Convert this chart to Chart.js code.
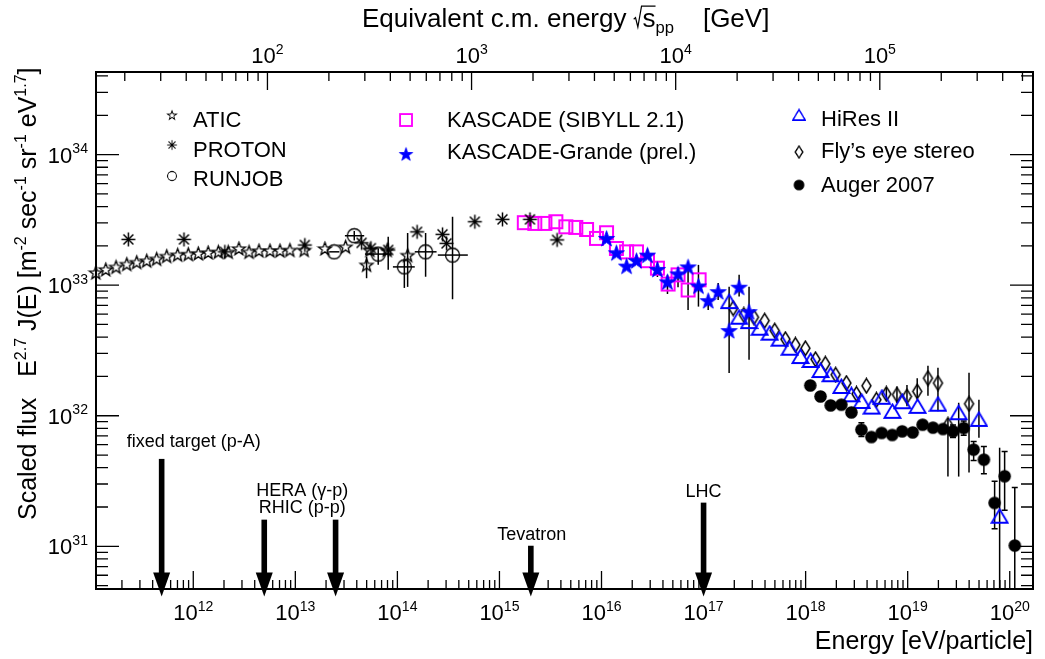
<!DOCTYPE html>
<html>
<head>
<meta charset="utf-8">
<script src="https://cdn.jsdelivr.net/npm/chart.js@4.4.1/dist/chart.umd.min.js"></script>
<style>
  body { margin: 0; background: #fff; }
</style>
</head>
<body>
<canvas id="c" width="1045" height="659"></canvas>
<script>
/* ─── Data (flux in units of 1e33) ───────────────────────────── */

const FLUX_UNIT = 1e33;

const aticE = [1.11e11, 1.39e11, 1.75e11, 2.23e11, 2.79e11, 3.50e11, 4.38e11, 5.49e11, 7.03e11, 8.93e11,
               1.12e12, 1.40e12, 1.76e12, 2.20e12, 2.80e12, 3.52e12, 4.40e12, 5.64e12, 7.07e12, 8.85e12,
               1.22e13, 1.95e13, 3.11e13, 4.99e13, 5.38e13, 7.94e13, 1.26e14];
const aticF = [1.25, 1.32, 1.38, 1.45, 1.50, 1.54, 1.59, 1.67, 1.71, 1.73,
               1.75, 1.78, 1.80, 1.80, 1.91, 1.80, 1.84, 1.84, 1.84, 1.86,
               1.86, 1.91, 1.97, 1.43, 1.86, 1.86, 1.70];
const aticErrE = [4.99e13, 1.26e14];
const aticErrLo = [1.13, 0.97];
const aticErrHi = [1.65, 2.51];

const protonE = [2.31e11, 8.11e11, 2.04e12, 1.24e13, 4.46e13, 5.50e13, 8.13e13, 1.56e14, 2.77e14, 3.03e14,
                 5.74e14, 1.07e15, 1.99e15, 3.67e15];
const protonF = [2.24, 2.24, 1.80, 2.03, 2.11, 1.92, 1.86, 2.56, 2.45, 2.09, 3.06, 3.19, 3.19, 2.22];
const protonErrE = [8.13e13];
const protonErrLo = [1.31];
const protonErrHi = [2.35];

const runjobE = [2.40e13, 3.78e13, 6.49e13, 1.17e14, 1.89e14, 3.47e14];
const runjobF = [1.80, 2.39, 1.73, 1.38, 1.80, 1.70];
const runjobELo = [2.15e13, 3.06e13, 4.81e13, 9.04e13, 1.48e14, 2.49e14];
const runjobEHi = [2.70e13, 4.73e13, 8.77e13, 1.48e14, 2.42e14, 4.90e14];
const runjobErrE = [3.78e13, 6.49e13, 1.17e14, 1.89e14, 3.47e14];
const runjobErrLo = [2.20, 1.43, 0.952, 1.16, 0.78];
const runjobErrHi = [2.60, 1.92, 1.56, 2.51, 3.34];

const kascadeE = [1.75e15, 2.22e15, 2.79e15, 3.57e15, 4.47e15, 5.60e15, 7.13e15, 8.93e15, 1.12e16, 1.40e16,
                  1.76e16, 2.20e16, 2.82e16, 3.53e16, 4.49e16, 5.62e16, 7.05e16, 9.04e16];
const kascadeF = [3.01, 2.97, 2.97, 3.06, 2.80, 2.77, 2.67, 2.28, 2.52, 1.91,
                  1.80, 1.80, 1.54, 1.35, 1.02, 1.20, 0.919, 1.10];

const grandeE = [1.12e16, 1.40e16, 1.76e16, 2.20e16, 2.82e16, 3.53e16, 4.43e16, 5.62e16, 7.05e16, 8.91e16,
                 1.11e17, 1.39e17, 1.78e17, 2.23e17, 2.79e17];
const grandeF = [2.28, 1.77, 1.40, 1.54, 1.70, 1.32, 1.06, 1.22, 1.38, 0.986,
                 0.761, 0.892, 0.449, 0.964, 0.627];
const grandeErrE = [3.53e16, 4.43e16, 5.62e16, 7.05e16, 8.91e16, 1.11e17, 1.39e17, 1.78e17, 2.23e17, 2.79e17];
const grandeErrLo = [1.155, 0.856, 0.964, 0.645, 0.685, 0.646, 0.77, 0.212, 0.817, 0.268];
const grandeErrHi = [1.51, 1.20, 1.38, 1.50, 1.43, 0.817, 1.04, 0.974, 1.20, 0.974];

const hiresE = [1.78e17, 2.23e17, 2.79e17, 3.55e17, 4.45e17, 5.57e17, 6.98e17, 8.89e17, 1.12e18, 1.40e18,
                1.76e18, 2.24e18, 2.81e18, 3.55e18, 4.44e18, 5.60e18, 7.08e18, 8.87e18, 1.25e19, 1.98e19,
                3.16e19, 4.99e19, 7.96e19];
const hiresF = [0.748, 0.568, 0.526, 0.468, 0.429, 0.386, 0.329, 0.284, 0.265, 0.222,
                0.206, 0.1675, 0.1447, 0.1286, 0.1165, 0.1385, 0.108, 0.128, 0.118, 0.1225,
                0.1054, 0.0937, 0.017];
const hiresErrE = [3.16e19, 4.99e19, 7.96e19];
const hiresErrLo = [0.0342, 0.0679, 0.001];
const hiresErrHi = [0.1257, 0.1327, 0.0569];

const flysE = [1.95e17, 2.48e17, 3.12e17, 3.97e17, 4.98e17, 6.34e17, 7.94e17, 9.95e17, 1.25e18, 1.56e18,
               1.97e18, 2.51e18, 3.15e18, 3.94e18, 4.94e18, 6.18e18, 7.85e18, 9.84e18, 1.24e19, 1.58e19,
               1.98e19, 2.48e19, 3.99e19];
const flysF = [0.666, 0.592, 0.568, 0.535, 0.449, 0.386, 0.349, 0.329, 0.271, 0.250,
               0.206, 0.178, 0.147, 0.1696, 0.1325, 0.147, 0.1448, 0.1405, 0.1535, 0.194,
               0.178, 0.0853, 0.1235];
const flysErrE = [6.18e18, 7.85e18, 9.84e18, 1.24e19, 1.58e19, 1.98e19, 2.48e19, 3.99e19];
const flysErrLo = [0.1325, 0.125, 0.118, 0.1325, 0.142, 0.108, 0.0342, 0.0367];
const flysErrHi = [0.164, 0.1675, 0.172, 0.1938, 0.241, 0.233, 0.095, 0.213];

const augerE = [1.11e18, 1.40e18, 1.76e18, 2.24e18, 2.81e18, 3.52e18, 4.41e18, 5.56e18, 7.05e18, 8.83e18,
                1.12e19, 1.40e19, 1.77e19, 2.22e19, 2.78e19, 3.54e19, 4.43e19, 5.58e19, 7.11e19, 8.91e19,
                1.12e20];
const augerF = [0.1706, 0.1405, 0.120, 0.1214, 0.106, 0.0781, 0.0687, 0.0738, 0.0712, 0.0759,
                0.0745, 0.0853, 0.081, 0.0791, 0.0759, 0.0805, 0.055, 0.0461, 0.0215, 0.0344,
                0.01014];
const augerErrE = [3.52e18, 2.78e19, 3.54e19, 4.43e19, 5.58e19, 7.11e19, 8.91e19, 1.12e20];
const augerErrLo = [0.0692, 0.068, 0.071, 0.0455, 0.036, 0.0136, 0.0189, 0.001];
const augerErrHi = [0.0885, 0.085, 0.091, 0.0636, 0.058, 0.0315, 0.0533, 0.0282];

// accelerator arrows: energy and flux level where the shaft starts
const accelNames = ['fixed target (p-A)', 'HERA (γ-p)', 'RHIC (p-p)', 'Tevatron', 'LHC'];
const accelE = [4.9e11, 4.96e12, 2.48e13, 2.03e15, 1.0e17];
const accelTopF = [0.0467, 0.0160, 0.0160, 0.0101, 0.0216];

// axis ranges
const E_MIN = 1.114e11, E_MAX = 1.69e20;
const F_MIN = 4.71e30, F_MAX = 4.29e34;
const TWO_MP = 1.876; // 2 m_p [GeV], sqrt(s) = sqrt(2 m_p E)

/* ─── Markers ───────────────────────────────────────────────── */

function markerCanvas(w, h, draw) {
    const c = document.createElement('canvas');
    c.width = w; c.height = h;
    draw(c.getContext('2d'), w / 2, h / 2);
    return c;
}

function starPath(g, cx, cy, R, r) {
    g.beginPath();
    for (let i = 0; i < 10; i++) {
        const rad = i % 2 ? r : R;
        const a = -Math.PI / 2 + i * Math.PI / 5;
        g.lineTo(cx + rad * Math.cos(a), cy + rad * Math.sin(a));
    }
    g.closePath();
}

const BLUE = '#0000ff', MAGENTA = '#ff00ff';

const mk = {
    atic: markerCanvas(17, 17, (g, x, y) => {
        starPath(g, x, y + 0.6, 6.8, 2.8);
        g.strokeStyle = '#000'; g.lineWidth = 1.3; g.stroke();
    }),
    proton: markerCanvas(17, 17, (g, x, y) => {
        g.strokeStyle = '#000'; g.lineWidth = 1.5;
        for (let k = 0; k < 4; k++) {
            const a = k * Math.PI / 4;
            g.beginPath();
            g.moveTo(x - 7 * Math.cos(a), y - 7 * Math.sin(a));
            g.lineTo(x + 7 * Math.cos(a), y + 7 * Math.sin(a));
            g.stroke();
        }
    }),
    runjob: markerCanvas(17, 17, (g, x, y) => {
        g.beginPath(); g.arc(x, y, 7, 0, Math.PI * 2);
        g.strokeStyle = '#000'; g.lineWidth = 1.3; g.stroke();
    }),
    kascade: markerCanvas(17, 17, (g) => {
        g.strokeStyle = MAGENTA; g.lineWidth = 2;
        g.strokeRect(2, 2, 13, 13);
    }),
    grande: markerCanvas(19, 19, (g, x, y) => {
        starPath(g, x, y + 0.7, 8.5, 3.4);
        g.fillStyle = BLUE; g.fill();
        g.strokeStyle = BLUE; g.lineWidth = 0.8; g.stroke();
    }),
    hires: markerCanvas(19, 17, (g) => {
        g.beginPath(); g.moveTo(9.5, 1.5); g.lineTo(17.5, 15); g.lineTo(1.5, 15); g.closePath();
        g.strokeStyle = BLUE; g.lineWidth = 1.8; g.stroke();
    }),
    flys: markerCanvas(13, 17, (g) => {
        g.beginPath(); g.moveTo(6.5, 1.3); g.lineTo(11, 8.5); g.lineTo(6.5, 15.7); g.lineTo(2, 8.5); g.closePath();
        g.strokeStyle = '#000'; g.lineWidth = 1.5; g.stroke();
    }),
    auger: markerCanvas(15, 15, (g, x, y) => {
        g.beginPath(); g.arc(x, y, 6.3, 0, Math.PI * 2);
        g.fillStyle = '#000'; g.fill();
    })
};

/* ─── Text helpers (superscripts / subscripts / sqrt) ───────── */

const FONT = '"Liberation Sans", Arial, Helvetica, sans-serif';
const font = px => px + 'px ' + FONT;

function richWidth(ctx, parts, size) {
    let w = 0;
    for (const [t, m] of parts) {
        const s = (m === 'sup' || m === 'sub') ? size * 0.64 : size;
        ctx.font = font(s);
        w += ctx.measureText(t).width + (m === 'sqrt' ? size * 0.34 : 0);
    }
    return w;
}

function richDraw(ctx, parts, x, y, size, align) {
    const w = richWidth(ctx, parts, size);
    let cx = align === 'center' ? x - w / 2 : align === 'right' ? x - w : x;
    ctx.textAlign = 'left';
    ctx.textBaseline = 'alphabetic';
    ctx.fillStyle = '#000';
    for (const [t, m] of parts) {
        if (m === 'sqrt') {
            ctx.font = font(size);
            const tw = ctx.measureText(t).width;
            const r = size * 0.34;
            ctx.beginPath();
            ctx.moveTo(cx, y - size * 0.30);
            ctx.lineTo(cx + size * 0.07, y - size * 0.36);
            ctx.lineTo(cx + size * 0.16, y);
            ctx.lineTo(cx + r - 1, y - size * 0.80);
            ctx.lineTo(cx + r + tw, y - size * 0.80);
            ctx.strokeStyle = '#000'; ctx.lineWidth = 1.2; ctx.stroke();
            ctx.fillText(t, cx + r, y);
            cx += r + tw;
            continue;
        }
        const s = (m === 'sup' || m === 'sub') ? size * 0.64 : size;
        const dy = m === 'sup' ? -size * 0.42 : m === 'sub' ? size * 0.24 : 0;
        ctx.font = font(s);
        ctx.fillText(t, cx, y + dy);
        cx += ctx.measureText(t).width;
    }
}

const pow10 = n => [['10', ''], [String(n), 'sup']];

function logTicks(min, max) {
    const out = [];
    for (let e = Math.floor(Math.log10(min)); e <= Math.ceil(Math.log10(max)); e++) {
        for (let k = 1; k <= 9; k++) {
            const v = k * Math.pow(10, e);
            if (v >= min * 0.9999 && v <= max * 1.0001) out.push({ v, e, major: k === 1 });
        }
    }
    return out;
}

/* ─── Plugin: frame, ticks, error bars, legend, arrows ──────── */

const errorSets = [
    { E: aticErrE, lo: aticErrLo, hi: aticErrHi },
    { E: protonErrE, lo: protonErrLo, hi: protonErrHi },
    { E: runjobErrE, lo: runjobErrLo, hi: runjobErrHi },
    { E: grandeErrE, lo: grandeErrLo, hi: grandeErrHi },
    { E: hiresErrE, lo: hiresErrLo, hi: hiresErrHi },
    { E: flysErrE, lo: flysErrLo, hi: flysErrHi },
    { E: augerErrE, lo: augerErrLo, hi: augerErrHi, cap: 3 }
];

const legendItems = [
    { m: mk.atic, s: 0.7, text: 'ATIC', mx: 172, my: 115, tx: 193, ty: 127 },
    { m: mk.proton, s: 0.7, text: 'PROTON', mx: 172, my: 145, tx: 193, ty: 157 },
    { m: mk.runjob, s: 0.65, text: 'RUNJOB', mx: 172, my: 176, tx: 193, ty: 186 },
    { m: mk.kascade, s: 0.92, text: 'KASCADE (SIBYLL 2.1)', mx: 406, my: 120, tx: 447, ty: 127 },
    { m: mk.grande, s: 0.85, text: 'KASCADE-Grande (prel.)', mx: 406, my: 154, tx: 447, ty: 159 },
    { m: mk.hires, s: 0.78, text: 'HiRes II', mx: 799, my: 115, tx: 821, ty: 126 },
    { m: mk.flys, s: 0.85, text: 'Fly\u2019s eye stereo', mx: 799, my: 152, tx: 821, ty: 158 },
    { m: mk.auger, s: 0.85, text: 'Auger 2007', mx: 799, my: 185, tx: 821, ty: 192 }
];

// label offsets relative to the arrow start (pixels)
const arrowLabels = [
    { i: 0, dx: 32, dy: -12 },
    { i: 1, dx: 38, dy: -24 },
    { i: 1, dx: 38, dy: -7 },
    { i: 3, dx: 1, dy: -6 },
    { i: 4, dx: 0, dy: -6 }
];

const rootPlugin = {
    id: 'rootPlugin',
    beforeDraw(chart) {
        const { ctx, width, height } = chart;
        ctx.save();
        ctx.fillStyle = '#fff';
        ctx.fillRect(0, 0, width, height);
        ctx.restore();
    },
    beforeDatasetsDraw(chart) {
        const { ctx, chartArea: a, scales: { x, y } } = chart;
        ctx.save();
        ctx.beginPath();
        ctx.rect(a.left, a.top, a.right - a.left, a.bottom - a.top);
        ctx.clip();
        ctx.strokeStyle = '#000';
        ctx.lineWidth = 1.5;
        for (const s of errorSets) {
            s.E.forEach((e, i) => {
                const px = x.getPixelForValue(e);
                const y1 = y.getPixelForValue(s.lo[i] * FLUX_UNIT);
                const y2 = y.getPixelForValue(s.hi[i] * FLUX_UNIT);
                ctx.beginPath();
                ctx.moveTo(px, y1); ctx.lineTo(px, y2);
                if (s.cap) {
                    ctx.moveTo(px - s.cap, y1); ctx.lineTo(px + s.cap, y1);
                    ctx.moveTo(px - s.cap, y2); ctx.lineTo(px + s.cap, y2);
                }
                ctx.stroke();
            });
        }
        // RUNJOB horizontal bars
        runjobE.forEach((e, i) => {
            const py = y.getPixelForValue(runjobF[i] * FLUX_UNIT);
            ctx.beginPath();
            ctx.moveTo(x.getPixelForValue(runjobELo[i]), py);
            ctx.lineTo(x.getPixelForValue(runjobEHi[i]), py);
            ctx.stroke();
        });
        ctx.restore();
    },
    afterDatasetsDraw(chart) {
        const { ctx, chartArea: a, scales: { x, x2, y } } = chart;
        ctx.save();

        // frame
        ctx.strokeStyle = '#000';
        ctx.lineWidth = 2;
        ctx.strokeRect(a.left, a.top, a.right - a.left, a.bottom - a.top);

        // ticks
        ctx.lineWidth = 1.3;
        ctx.beginPath();
        for (const t of logTicks(E_MIN, E_MAX)) {
            const px = x.getPixelForValue(t.v);
            ctx.moveTo(px, a.bottom); ctx.lineTo(px, a.bottom - (t.major ? 18 : 9));
        }
        for (const t of logTicks(x2.min, x2.max)) {
            const px = x2.getPixelForValue(t.v);
            ctx.moveTo(px, a.top); ctx.lineTo(px, a.top + (t.major ? 18 : 9));
        }
        for (const t of logTicks(F_MIN, F_MAX)) {
            const py = y.getPixelForValue(t.v);
            const len = t.major ? 23 : 12;
            ctx.moveTo(a.left, py); ctx.lineTo(a.left + len, py);
            ctx.moveTo(a.right, py); ctx.lineTo(a.right - len, py);
        }
        ctx.stroke();

        // tick labels
        for (const t of logTicks(E_MIN, E_MAX)) {
            if (t.major) richDraw(ctx, pow10(t.e), x.getPixelForValue(t.v), a.bottom + 31, 22, 'center');
        }
        for (const t of logTicks(x2.min, x2.max)) {
            if (t.major) richDraw(ctx, pow10(t.e), x2.getPixelForValue(t.v), a.top - 9, 22, 'center');
        }
        for (const t of logTicks(F_MIN, F_MAX)) {
            if (t.major) richDraw(ctx, pow10(t.e), a.left - 8, y.getPixelForValue(t.v) + 8, 22, 'right');
        }

        // axis titles
        richDraw(ctx, [['Energy [eV/particle]', '']], a.right, 649, 25, 'right');
        richDraw(ctx, [['Equivalent c.m. energy ', ''], ['s', 'sqrt'], ['pp', 'sub'], ['    [GeV]', '']],
                 362, 27, 26, 'left');
        ctx.save();
        ctx.translate(36, 520);
        ctx.rotate(-Math.PI / 2);
        richDraw(ctx, [['Scaled flux   E', ''], ['2.7', 'sup'], [' J(E) [m', ''], ['-2', 'sup'],
                       [' sec', ''], ['-1', 'sup'], [' sr', ''], ['-1', 'sup'], [' eV', ''],
                       ['1.7', 'sup'], [']', '']], 0, 0, 25, 'left');
        ctx.restore();

        // legend
        for (const it of legendItems) {
            const w = it.m.width * it.s, h = it.m.height * it.s;
            ctx.drawImage(it.m, it.mx - w / 2, it.my - h / 2, w, h);
            richDraw(ctx, [[it.text, '']], it.tx, it.ty, 22, 'left');
        }

        // accelerator arrows
        ctx.fillStyle = '#000';
        const tipY = a.bottom + 7.5, headH = 24, headW = 8.5, shaft = 2.8;
        accelE.forEach((e, i) => {
            const px = x.getPixelForValue(e);
            const top = y.getPixelForValue(accelTopF[i] * FLUX_UNIT);
            ctx.fillRect(px - shaft, top, shaft * 2, tipY - headH - top + 1);
            ctx.beginPath();
            ctx.moveTo(px - headW, tipY - headH);
            ctx.lineTo(px + headW, tipY - headH);
            ctx.lineTo(px, tipY);
            ctx.closePath();
            ctx.fill();
        });
        arrowLabels.forEach((l, k) => {
            const px = x.getPixelForValue(accelE[l.i]);
            const top = y.getPixelForValue(accelTopF[l.i] * FLUX_UNIT);
            richDraw(ctx, [[accelNames[k], '']], px + l.dx, top + l.dy, 18, 'center');
        });

        ctx.restore();
    }
};

/* ─── Chart ─────────────────────────────────────────────────── */

const pts = (E, F) => E.map((e, i) => ({ x: e, y: F[i] * FLUX_UNIT }));

function series(label, E, F, marker, order) {
    return { label, data: pts(E, F), pointStyle: marker, pointRadius: 7, showLine: false, order, clip: false };
}

const hidden = {
    ticks: { display: false },
    grid: { display: false },
    border: { display: false }
};

new Chart(document.getElementById('c'), {
    type: 'scatter',
    data: {
        datasets: [
            series('ATIC', aticE, aticF, mk.atic, 5),
            series('PROTON', protonE, protonF, mk.proton, 4),
            series('RUNJOB', runjobE, runjobF, mk.runjob, 3),
            series('KASCADE (SIBYLL 2.1)', kascadeE, kascadeF, mk.kascade, 6),
            series('KASCADE-Grande (prel.)', grandeE, grandeF, mk.grande, 1),
            series('HiRes II', hiresE, hiresF, mk.hires, 2),
            series('Fly\u2019s eye stereo', flysE, flysF, mk.flys, 7),
            series('Auger 2007', augerE, augerF, mk.auger, 0)
        ]
    },
    options: {
        responsive: false,
        animation: false,
        events: [],
        layout: { padding: { left: 0, right: 12, top: 0, bottom: 0 } },
        plugins: { legend: { display: false }, tooltip: { enabled: false } },
        scales: {
            x: {
                type: 'logarithmic', position: 'bottom', bounds: 'data',
                min: E_MIN, max: E_MAX, ...hidden,
                afterFit: s => { s.height = 70; }
            },
            x2: {
                type: 'logarithmic', position: 'top', axis: 'x', bounds: 'data',
                min: Math.sqrt(TWO_MP * E_MIN / 1e9), max: Math.sqrt(TWO_MP * E_MAX / 1e9), ...hidden,
                afterFit: s => { s.height = 72; }
            },
            y: {
                type: 'logarithmic', position: 'left', bounds: 'data',
                min: F_MIN, max: F_MAX, ...hidden,
                afterFit: s => { s.width = 96; }
            }
        }
    },
    plugins: [rootPlugin]
});
</script>
</body>
</html>
